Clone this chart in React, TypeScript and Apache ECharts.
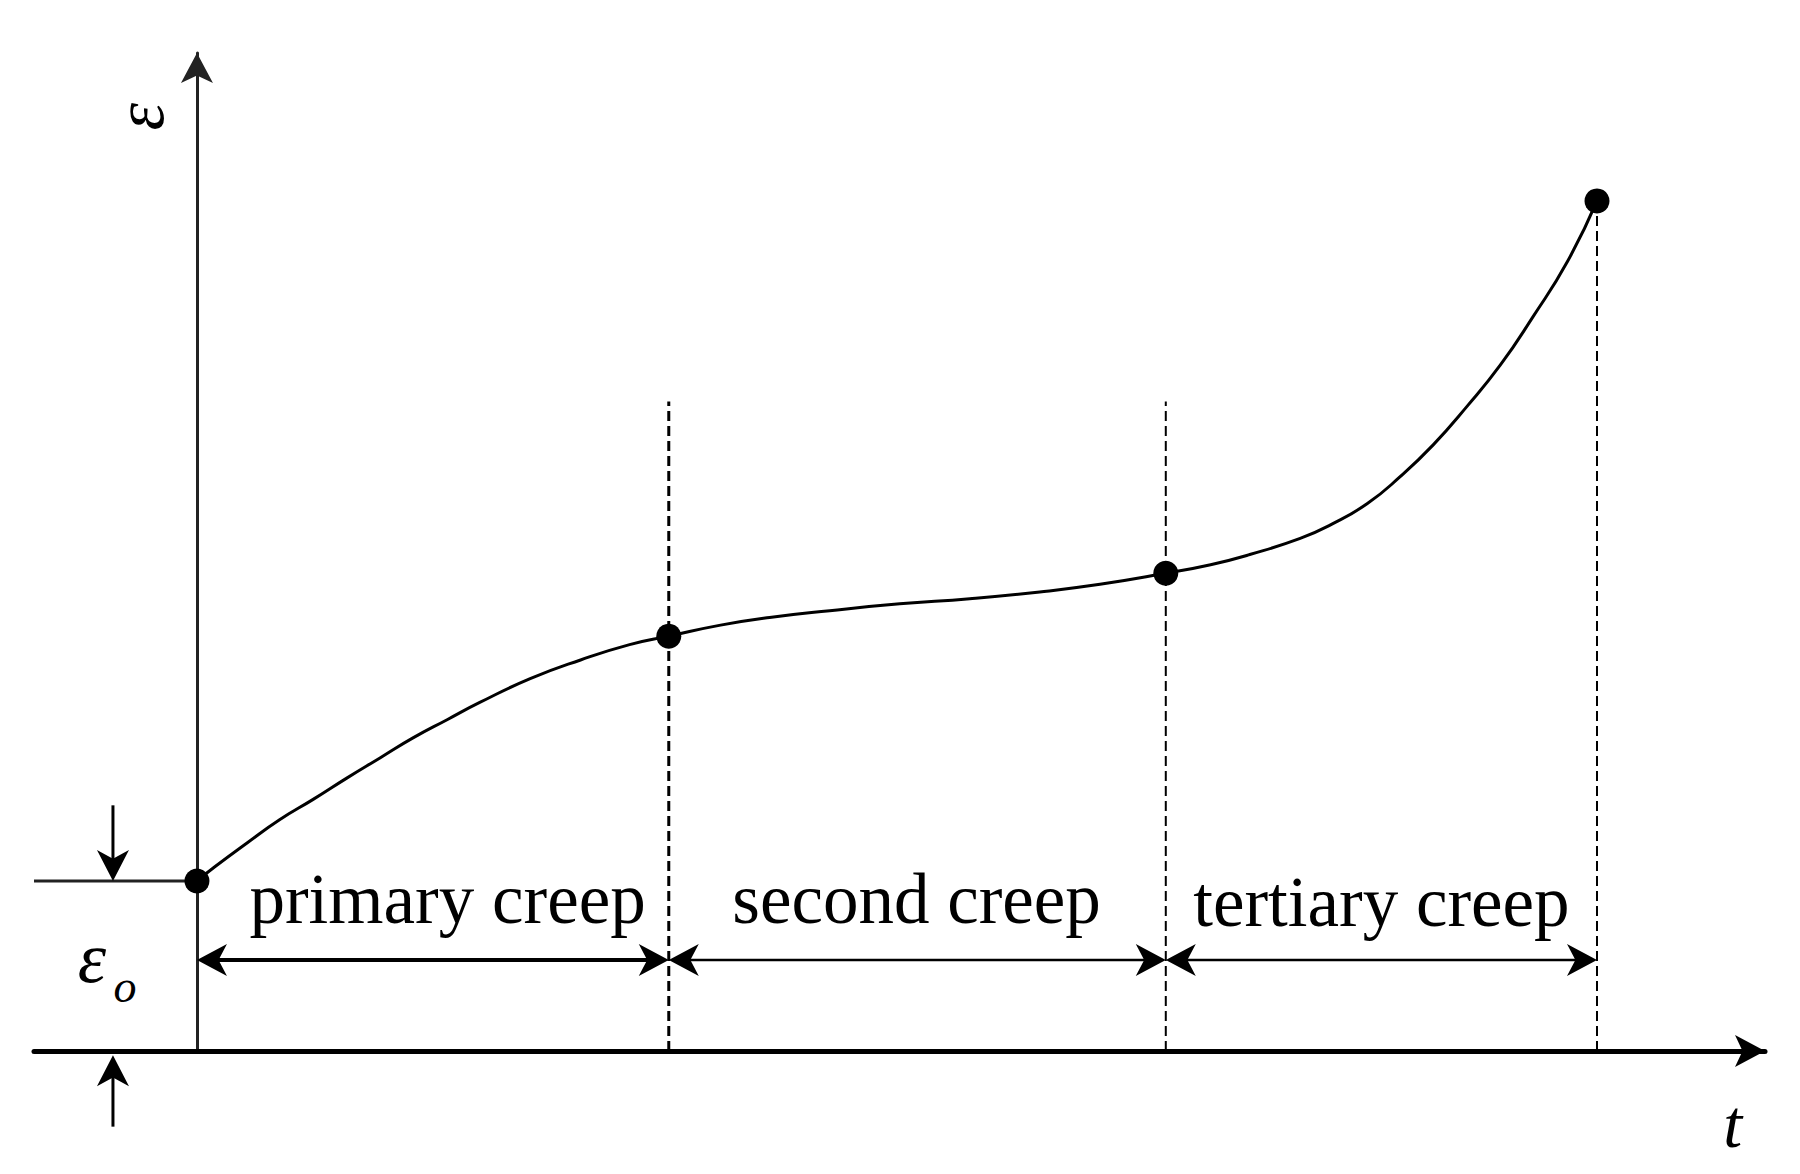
import React, { useEffect, useRef } from 'react';
import * as echarts from 'echarts';

// ---- data (t in arbitrary time units, ε in arbitrary strain units) ----
const timeValues = [
  0, 0.13, 0.36, 0.59, 0.83, 1.07, 1.31, 1.54, 1.79, 2.02, 2.38, 2.74, 3.09, 3.37,
  3.74, 4.09, 4.52, 5.02, 5.52, 6.02, 6.45, 6.92,
  7.24, 7.52, 7.88, 8.11, 8.36, 8.59, 8.83, 9.07, 9.31, 9.54, 9.79, 10,
];
const strainValues = [
  2.0, 2.17, 2.45, 2.72, 2.96, 3.21, 3.45, 3.68, 3.9, 4.1, 4.38, 4.6, 4.78, 4.88,
  5.01, 5.1, 5.18, 5.26, 5.32, 5.4, 5.49, 5.62,
  5.72, 5.84, 6.03, 6.2, 6.44, 6.75, 7.13, 7.58, 8.07, 8.63, 9.29, 10,
];
const stageTimes = [0, 3.37, 6.92, 10];
const stageStrains = [2.0, 4.88, 5.62, 10];
const dashTops = [7.64, 7.64, 10];
const stageLabels = ['primary creep', 'second creep', 'tertiary creep'];
const stageLabelTimes = [1.79, 5.14, 8.46];
const stageLabelStrains = [1.79, 1.79, 1.75];
const arrowLevel = 1.07;
const initialStrain = 2.0;
const markerTime = -0.6;
const markerTop = 2.89;
const markerBottom = -0.89;
const markerBottomTip = -0.05;
const tRange = [-1.164, 11.2];
const strainRange = [0, 11.74];

const FONT = '"Liberation Serif", "Times New Roman", serif';

function arrowHead(tip: number[], from: number[], L: number, W: number) {
  const dx = tip[0] - from[0];
  const dy = tip[1] - from[1];
  const len = Math.hypot(dx, dy) || 1;
  const ux = dx / len;
  const uy = dy / len;
  const nx = -uy;
  const ny = ux;
  return [
    [tip[0], tip[1]],
    [tip[0] - ux * L + (nx * W) / 2, tip[1] - uy * L + (ny * W) / 2],
    [tip[0] - ux * L * 0.72, tip[1] - uy * L * 0.72],
    [tip[0] - ux * L - (nx * W) / 2, tip[1] - uy * L - (ny * W) / 2],
  ];
}

export default function App() {
  const ref = useRef<HTMLDivElement>(null);

  useEffect(() => {
    if (!ref.current) return;
    const chart = echarts.init(ref.current, undefined, { renderer: 'svg' });

    const curveData = timeValues.map((t, i) => [t, strainValues[i]]);

    const arrowData: number[][] = [];
    for (let i = 0; i < 3; i++) {
      arrowData.push([stageTimes[i], arrowLevel, stageTimes[i + 1], arrowLevel, 1]);
    }
    arrowData.push([markerTime, markerTop, markerTime, initialStrain, 0]);
    arrowData.push([markerTime, markerBottom, markerTime, markerBottomTip, 0]);
    const arrowWidths = [4, 2.5, 2.5, 3, 3];

    const dashSeries = stageTimes.slice(1).map((t, i) => ({
      type: 'line',
      data: [
        [t, 0],
        [t, dashTops[i]],
      ],
      showSymbol: false,
      symbol: 'none',
      silent: true,
      z: 2,
      lineStyle: { color: '#000', width: i === 0 ? 3 : 2, type: [10, 5] },
    }));

    const labelData: any[] = stageLabels.map((s, i) => ({
      value: [stageLabelTimes[i], stageLabelStrains[i]],
      name: s,
    }));
    labelData.push({
      value: [-0.41, 10.99],
      name: 'ε',
      label: { rotate: 90, fontStyle: 'italic', fontSize: 70 },
    });
    labelData.push({
      value: [-0.75, 1.09],
      name: 'ε',
      label: { fontStyle: 'italic', fontSize: 72 },
    });
    labelData.push({
      value: [-0.514, 0.76],
      name: 'o',
      label: { fontStyle: 'italic', fontSize: 46 },
    });
    labelData.push({
      value: [10.97, -0.86],
      name: 't',
      label: { fontStyle: 'italic', fontSize: 68 },
    });

    const option: any = {
      animation: false,
      backgroundColor: '#fff',
      grid: { left: 34, right: 35, top: 53, bottom: 123, containLabel: false },
      xAxis: {
        type: 'value',
        min: tRange[0],
        max: tRange[1],
        axisLine: {
          show: true,
          onZero: false,
          lineStyle: { color: '#000', width: 5 },
          symbol: ['none', 'arrow'],
          symbolSize: [24, 30],
        },
        axisTick: { show: false },
        axisLabel: { show: false },
        splitLine: { show: false },
      },
      yAxis: {
        type: 'value',
        min: strainRange[0],
        max: strainRange[1],
        axisLine: {
          show: true,
          onZero: true,
          lineStyle: { color: '#222', width: 3 },
          symbol: ['none', 'arrow'],
          symbolSize: [24, 30],
        },
        axisTick: { show: false },
        axisLabel: { show: false },
        splitLine: { show: false },
      },
      series: [
        {
          type: 'line',
          name: 'creep curve',
          data: curveData,
          smooth: 0.5,
          showSymbol: false,
          symbol: 'none',
          z: 3,
          lineStyle: { color: '#000', width: 3 },
        },
        ...dashSeries,
        {
          type: 'line',
          data: [
            [tRange[0], initialStrain],
            [0, initialStrain],
          ],
          showSymbol: false,
          symbol: 'none',
          silent: true,
          z: 2,
          lineStyle: { color: '#222', width: 3 },
        },
        {
          type: 'scatter',
          data: stageTimes.map((t, i) => [t, stageStrains[i]]),
          symbol: 'circle',
          symbolSize: 25,
          z: 5,
          itemStyle: { color: '#000', opacity: 1 },
        },
        {
          type: 'custom',
          coordinateSystem: 'cartesian2d',
          clip: false,
          silent: true,
          z: 4,
          data: arrowData,
          renderItem: (params: any, api: any) => {
            const p1 = api.coord([api.value(0), api.value(1)]);
            const p2 = api.coord([api.value(2), api.value(3)]);
            const both = api.value(4) === 1;
            const lw = arrowWidths[params.dataIndex];
            const L = both ? 30 : 31;
            const W = 32;
            const dx = p2[0] - p1[0];
            const dy = p2[1] - p1[1];
            const len = Math.hypot(dx, dy) || 1;
            const ux = dx / len;
            const uy = dy / len;
            const s = both ? [p1[0] + ux * L * 0.6, p1[1] + uy * L * 0.6] : p1;
            const e = [p2[0] - ux * L * 0.6, p2[1] - uy * L * 0.6];
            const children: any[] = [
              {
                type: 'line',
                shape: { x1: s[0], y1: s[1], x2: e[0], y2: e[1] },
                style: { stroke: '#000', lineWidth: lw },
              },
              {
                type: 'polygon',
                shape: { points: arrowHead(p2, p1, L, W) },
                style: { fill: '#000' },
              },
            ];
            if (both) {
              children.push({
                type: 'polygon',
                shape: { points: arrowHead(p1, p2, L, W) },
                style: { fill: '#000' },
              });
            }
            return { type: 'group', children };
          },
        },
        {
          type: 'scatter',
          data: labelData,
          symbolSize: 1,
          silent: true,
          clip: false,
          z: 6,
          itemStyle: { color: 'rgba(0,0,0,0)', opacity: 1 },
          label: {
            show: true,
            position: 'inside',
            formatter: '{b}',
            fontFamily: FONT,
            fontSize: 71,
            color: '#000',
            opacity: 1,
            align: 'center',
            verticalAlign: 'middle',
          },
        },
      ],
    };

    chart.setOption(option);
    return () => {
      chart.dispose();
    };
  }, []);

  return (
    <div
      ref={ref}
      style={{ position: 'absolute', left: 0, top: 0, width: 1800, height: 1174, background: '#fff' }}
    />
  );
}
